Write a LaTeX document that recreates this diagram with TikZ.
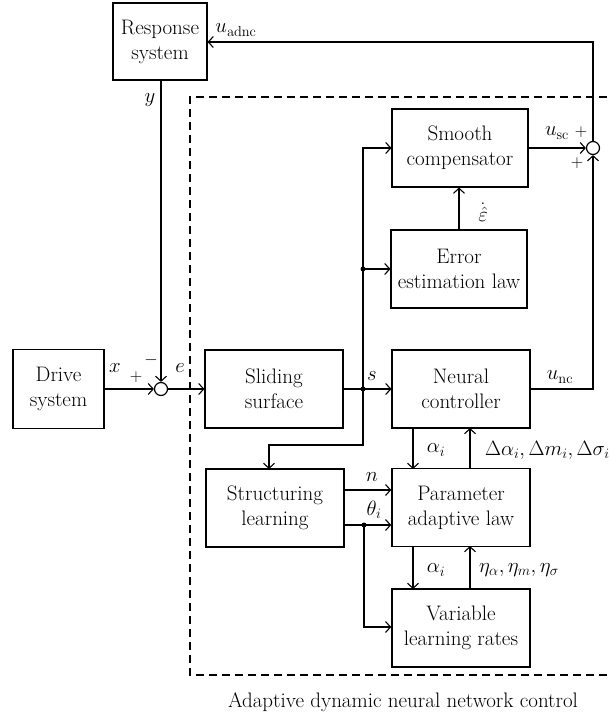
\documentclass[tikz,border=0pt]{standalone}
\usetikzlibrary{arrows.meta}
\begin{document}
\begin{tikzpicture}[x=1pt,y=-1pt,
  every node/.style={font=\fontsize{21}{25}\selectfont},
  blk/.style={draw,line width=1.1pt,minimum width=138pt,minimum height=78pt,inner sep=0pt,align=center},
  blkb/.style={blk,line width=1.5pt},
  sumj/.style={draw,circle,line width=1.2pt,minimum size=13pt,inner sep=0pt},
  lbl/.style={inner sep=0pt,font=\fontsize{21}{25}\selectfont},
  sgn/.style={inner sep=0pt,font=\fontsize{16}{18}\selectfont},
  wire/.style={line width=1.1pt},
  arr/.style={wire,-{Straight Barb[length=5pt,width=11pt,line width=1.1pt]}},
  dot/.style={circle,fill,inner sep=0pt,minimum size=5pt},
  frame/.style={dashed,line width=1.1pt,dash pattern=on 8pt off 5pt}]
\useasboundingbox (0,0) rectangle (610,717);

% dashed boundary of the adaptive controller
\draw[frame] (620,97) -- (190,97) -- (190,675) -- (620,675);

% blocks
\node[blk,minimum width=94pt,minimum height=77pt] (resp) at (160,41.5) {Response\\system};
\node[blkb,minimum width=91pt,minimum height=79pt] (drive) at (58.5,389) {Drive\\system};
\node[blk] (slide) at (274,389) {Sliding\\surface};
\node[blk,minimum width=136pt] (smooth) at (460,148) {Smooth\\compensator};
\node[blk,minimum width=136pt] (errest) at (459,269) {Error\\estimation law};
\node[blk] (neural) at (461,389) {Neural\\controller};
\node[blk] (struct) at (275,508) {Structuring\\learning};
\node[blkb] (param) at (461,507.5) {Parameter\\adaptive law};
\node[blkb] (vlr) at (461,628) {Variable\\learning rates};

% summing junctions
\node[sumj] (s1) at (161,389) {};
\node[sumj] (s2) at (593,148) {};

% branch points
\coordinate (js) at (363,389);
\coordinate (je) at (363,269);
\coordinate (jt) at (364,525);
\node[dot] at (js) {};
\node[dot] at (je) {};
\node[dot] at (jt) {};

% main path
\draw[arr] (drive.east |- s1) -- (s1.west);
\draw[arr] (s1.east) -- (slide.west |- s1);
\draw[wire] (slide.east |- js) -- (js);
\draw[arr] (js) -- (neural.west |- js);
\draw[arr] (resp.south -| s1) -- (s1.north);

% sliding variable branches
\draw[arr] (js) -- (363,148) -- (smooth.west |- 0,148);
\draw[arr] (je) -- (errest.west |- je);
\draw[arr] (js) -- (363,445) -- (269,445) -- (269,469);
\draw[arr] (errest.north) -- (smooth.south -| errest.north);

% control outputs
\draw[arr] (smooth.east |- s2) -- (s2.west);
\draw[arr] (neural.east |- 0,389) -- (593,389) -- (s2.south);
\draw[arr] (s2.north) -- (593,42) -- (resp.east |- 0,42);

% structure learning outputs
\draw[arr] (struct.east |- 0,490) -- (param.west |- 0,490);
\draw[arr] (struct.east |- jt) -- (param.west |- jt);
\draw[arr] (jt) -- (364,627) -- (vlr.west |- 0,627);

% parameter adaptation loops
\draw[arr] (413,428) -- (413,469);
\draw[arr] (470,469) -- (470,428);
\draw[arr] (413,546) -- (413,589);
\draw[arr] (470,589) -- (470,546);

% signal labels
\node[lbl] at (236,30) {$u_{\mathrm{adnc}}$};
\node[lbl] at (150,100) {$y$};
\node[lbl] at (115,368) {$x$};
\node[sgn] at (136,377) {$+$};
\node[sgn] at (151,360) {$-$};
\node[lbl] at (180,368) {$e$};
\node[lbl] at (372,376) {$s$};
\node[lbl] at (557,133) {$u_{\mathrm{sc}}$};
\node[sgn] at (581,132) {$+$};
\node[sgn] at (577,163) {$+$};
\node[lbl] at (483,212) {$\dot{\hat{\varepsilon}}$};
\node[lbl] at (560,377) {$u_{\mathrm{nc}}$};
\node[lbl] at (436,450) {$\alpha_i$};
\node[lbl,anchor=west] at (485,450) {$\Delta\alpha_i, \Delta m_i, \Delta\sigma_i$};
\node[lbl] at (372,477) {$n$};
\node[lbl] at (374,510) {$\theta_i$};
\node[lbl] at (436,570) {$\alpha_i$};
\node[lbl,anchor=west] at (479,570) {$\eta_\alpha, \eta_m, \eta_\sigma$};
\node[lbl] at (403,702) {Adaptive dynamic neural network control};
\end{tikzpicture}
\end{document}
